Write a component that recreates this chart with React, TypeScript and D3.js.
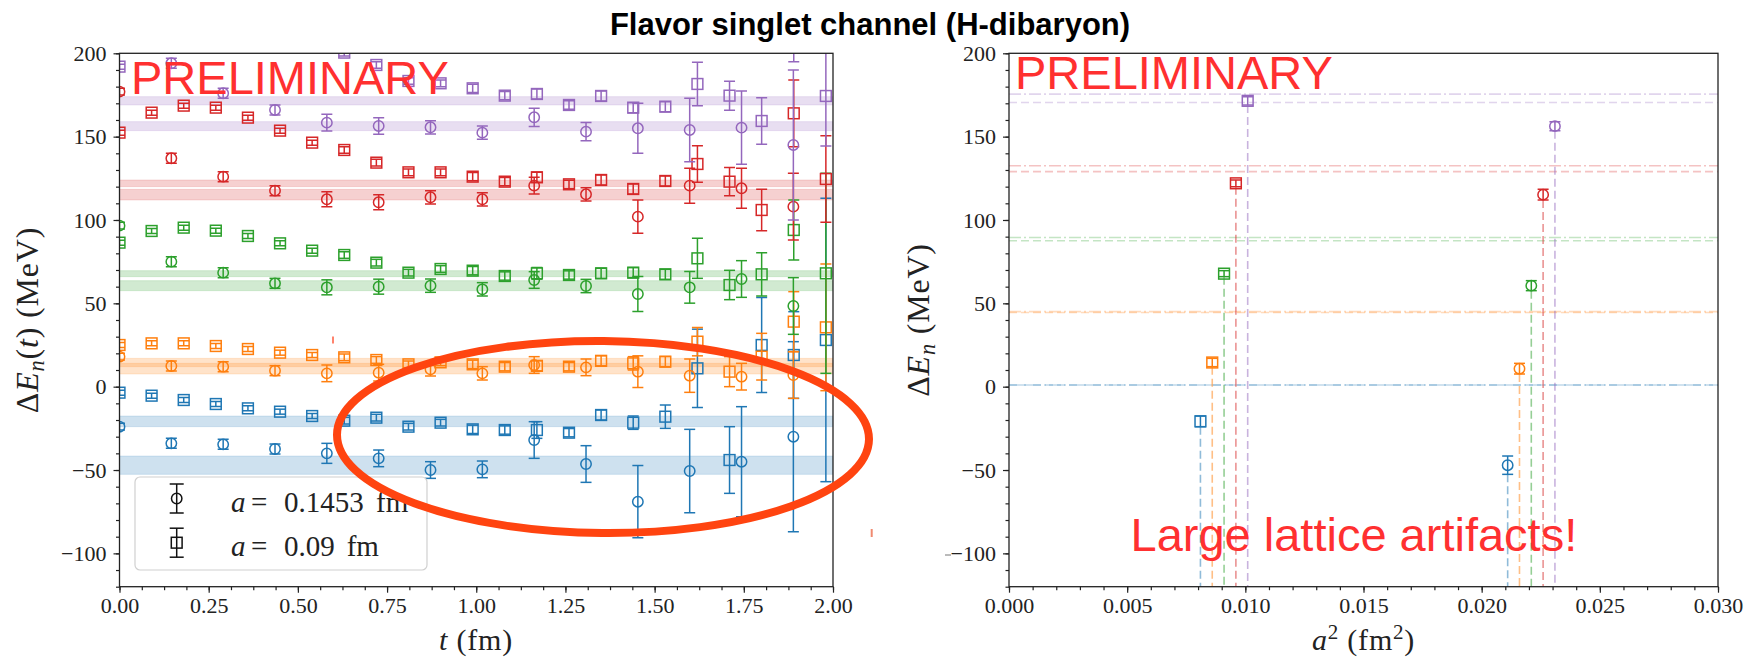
import React, { useEffect, useRef } from 'react';
import * as d3 from 'd3';

const W = 1754;
const H = 659;

const colors = ['#1f77b4', '#ff7f0e', '#2ca02c', '#d62728', '#9467bd'];
const serif = '"Liberation Serif", "DejaVu Serif", serif';
const sans = '"Liberation Sans", Arial, sans-serif';
const red = '#ff3030';

// Euclidean time t (fm): a = 0.1453 fm (circles), a = 0.09 fm (squares)
const tCircle = [0, 0.1453, 0.2906, 0.4359, 0.5812, 0.7265, 0.8718, 1.0171, 1.1624, 1.3077, 1.453, 1.5983, 1.7436, 1.8889];
const tSquare = [0, 0.09, 0.18, 0.27, 0.36, 0.45, 0.54, 0.63, 0.72, 0.81, 0.9, 0.99, 1.08, 1.17, 1.26, 1.35, 1.44, 1.53, 1.62, 1.71, 1.8, 1.89, 1.98];

// effective energy shifts (MeV), circles
const blueCircle = [-24, -34, -34.6, -37.4, -40, -43, -50, -49.6, -32, -46.4, -69, -50.6, -45, -30];
const blueCircleErr = [2, 3, 3, 3, 6, 5, 5, 5, 11, 11, 21.7, 25, 33, 57];
const orangeCircle = [18, 12.4, 12, 9.6, 8, 8.4, 10.4, 8, 13, 11.6, 9, 6.6, 6, 7];
const orangeCircleErr = [2, 3, 3, 3, 5, 5, 4, 4, 5, 5, 9.5, 10, 8, 14];
const greenCircle = [96.6, 75, 68.4, 62, 59.6, 60, 60.6, 58.4, 64, 60.4, 55.6, 59.6, 64.6, 48.4];
const greenCircleErr = [2, 3, 3, 3, 4.5, 4.5, 4, 4, 5, 4, 10.5, 9.5, 11, 17];
const redCircle = [177, 137, 126, 117.6, 112.4, 110.6, 113.6, 112.4, 120.6, 115.4, 102, 120.6, 119, 108];
const redCircleErr = [2, 3, 3, 3, 4.5, 4.5, 4, 4, 5, 4, 10, 10.5, 12, 20];
const purpleCircle = [215, 194, 176, 166, 158.4, 156.4, 155.6, 152.4, 161.6, 153, 155, 154, 155.4, 145];
const purpleCircleErr = [2, 3, 3, 3, 5, 5, 4, 4, 5.5, 5.5, 15, 19, 22, 45];

// effective energy shifts (MeV), squares
const blueSquare = [-3.6, -5.4, -8, -10.4, -13, -15, -17.6, -20.4, -18.6, -24, -21.6, -25.6, -26, -26, -27.6, -17, -21.6, -18, 11, -44, 25, 19, 28];
const blueSquareErr = [1.5, 1.5, 1.5, 1.5, 1.5, 1.5, 1.5, 2, 2, 2, 2, 2.5, 2.5, 5, 2.5, 3, 4, 7, 23.5, 20, 28.5, 26, 85];
const orangeSquare = [25, 26, 26, 24.4, 22.6, 20.4, 19, 17.6, 16, 13.4, 14.6, 13.4, 12, 12.5, 12, 15.5, 14, 15, 27, 9, 18, 39, 35.6];
const orangeSquareErr = [1.5, 1.5, 1.5, 1.5, 1.5, 1.5, 1.5, 2, 2, 2, 2, 2.5, 2.5, 3, 2.5, 3, 4, 3, 8.5, 9, 14, 18, 38];
const greenSquare = [86.4, 93.4, 95.4, 93.6, 90.4, 86, 81.6, 79, 74.4, 68.4, 70.6, 69.6, 66.4, 68, 67, 68, 68.4, 67.4, 77, 61, 67.4, 94, 68];
const greenSquareErr = [1.5, 1.5, 1.5, 1.5, 1.5, 1.5, 1.5, 2, 2, 2, 2, 2.5, 2.5, 3.5, 2.5, 3, 3, 3, 12, 8.8, 13, 18, 60];
const redSquare = [152.4, 164.4, 168.6, 167.4, 161.4, 153.6, 146.4, 142, 134.4, 128.6, 128.6, 126, 123, 125.6, 121.4, 124, 118.6, 123.4, 133.6, 123, 106, 164, 124.6];
const redSquareErr = [1.5, 1.5, 1.5, 1.5, 1.5, 1.5, 1.5, 2, 2, 2, 2, 2.5, 2.5, 3, 2.5, 3, 3, 3, 11, 8.5, 12.5, 20, 26];
const purpleSquare = [192, 215, 215, 212, 210, 208, 205, 200.4, 193, 183.4, 182, 179, 174.6, 175.6, 169, 174.4, 167.4, 168, 181.6, 174.6, 159.4, 235, 174.4];
const purpleSquareErr = [1.5, 1.5, 1.5, 1.5, 1.5, 1.5, 1.5, 2, 2, 2, 2, 2.5, 2.5, 3, 2.5, 3, 3, 3, 13, 8.7, 14, 40, 30];

// plateau fits (MeV), blue..purple
const fitSquare = [-20.8, 14.5, 67.8, 122, 171.5];
const fitSquareErr = [3.2, 2.5, 1.8, 2, 2.5];
const fitCircle = [-47.1, 10.8, 60.6, 115.2, 156.3];
const fitCircleErr = [5.5, 3.2, 3, 3.2, 2.7];

// right panel: a^2 positions (fm^2), slightly offset per level
const a2Square = [0.0081, 0.0086, 0.0091, 0.0096, 0.0101];
const a2Circle = [0.0211, 0.0216, 0.0221, 0.0226, 0.0231];
// non-interacting levels (MeV)
const thrDashDot = [1, 45, 89.5, 132.5, 175.5];
const thrDashed = [1, 44.5, 87.5, 129, 170.5];

const yTicks = [-100, -50, 0, 50, 100, 150, 200];
const tTicks = [0, 0.25, 0.5, 0.75, 1, 1.25, 1.5, 1.75, 2];
const a2Ticks = [0, 0.005, 0.01, 0.015, 0.02, 0.025, 0.03];

const circleSets = [
  [blueCircle, blueCircleErr], [orangeCircle, orangeCircleErr], [greenCircle, greenCircleErr],
  [redCircle, redCircleErr], [purpleCircle, purpleCircleErr],
];
const squareSets = [
  [blueSquare, blueSquareErr], [orangeSquare, orangeSquareErr], [greenSquare, greenSquareErr],
  [redSquare, redSquareErr], [purpleSquare, purpleSquareErr],
];

function errorbar(g, cx, cy, ylo, yhi, color, shape, cap = 5.5) {
  g.append('line').attr('x1', cx).attr('x2', cx).attr('y1', ylo).attr('y2', yhi)
    .attr('stroke', color).attr('stroke-width', 1.5);
  [ylo, yhi].forEach(yy => {
    g.append('line').attr('x1', cx - cap).attr('x2', cx + cap).attr('y1', yy).attr('y2', yy)
      .attr('stroke', color).attr('stroke-width', 1.5);
  });
  if (shape === 'circle') {
    g.append('circle').attr('cx', cx).attr('cy', cy).attr('r', 5.2)
      .attr('fill', 'none').attr('stroke', color).attr('stroke-width', 1.5);
  } else {
    g.append('rect').attr('x', cx - 5.4).attr('y', cy - 5.4).attr('width', 10.8).attr('height', 10.8)
      .attr('fill', 'none').attr('stroke', color).attr('stroke-width', 1.5);
  }
}

function axes(svg, x, y, xTicks, xMinorStep, xFmt) {
  const [x0, x1] = x.range();
  const [yb, yt] = y.range();
  const style = (g) => {
    g.select('.domain').remove();
    g.selectAll('text').attr('font-family', serif).attr('font-size', 22).attr('fill', '#222');
    g.selectAll('line').attr('stroke', '#222').attr('stroke-width', 1.2);
  };
  const xd = x.domain();
  const minorX = d3.range(xd[0], xd[1] + xMinorStep / 2, xMinorStep);
  svg.append('g').attr('transform', `translate(0,${yb})`)
    .call(d3.axisBottom(x).tickValues(minorX).tickFormat(() => '').tickSize(3.5)).call(style);
  svg.append('g').attr('transform', `translate(0,${yb})`)
    .call(d3.axisBottom(x).tickValues(xTicks).tickFormat(xFmt).tickSize(6).tickPadding(5)).call(style);
  svg.append('g').attr('transform', `translate(${x0},0)`)
    .call(d3.axisLeft(y).tickValues(d3.range(-120, 201, 10)).tickFormat(() => '').tickSize(3.5)).call(style);
  svg.append('g').attr('transform', `translate(${x0},0)`)
    .call(d3.axisLeft(y).tickValues(yTicks).tickFormat(d3.format('d')).tickSize(6).tickPadding(7)).call(style);
  svg.append('rect').attr('x', x0).attr('y', yt).attr('width', x1 - x0).attr('height', yb - yt)
    .attr('fill', 'none').attr('stroke', '#222').attr('stroke-width', 1.3);
}

// parts: text pieces; dy in px so sub/superscripts return to the baseline
function mathLabel(sel, parts) {
  parts.forEach(p => {
    const ts = sel.append('tspan').text(p.t);
    if (p.i) ts.attr('font-style', 'italic');
    if (p.small) ts.attr('font-size', '0.7em');
    if (p.dy) ts.attr('dy', p.dy);
  });
}

export default function App() {
  const ref = useRef(null);

  useEffect(() => {
    const svg = d3.select(ref.current);
    svg.selectAll('*').remove();
    svg.append('rect').attr('width', W).attr('height', H).attr('fill', '#fff');

    const xL = d3.scaleLinear().domain([0, 2]).range([119.5, 833]);
    const xR = d3.scaleLinear().domain([0, 0.03]).range([1009, 1718]);
    const y = d3.scaleLinear().domain([-120, 200]).range([586.7, 53.3]);

    const defs = svg.append('defs');
    defs.append('clipPath').attr('id', 'clipL').append('rect')
      .attr('x', 119.5).attr('y', 53.3).attr('width', 833 - 119.5).attr('height', 586.7 - 53.3);
    defs.append('clipPath').attr('id', 'clipR').append('rect')
      .attr('x', 1009).attr('y', 53.3).attr('width', 1718 - 1009).attr('height', 586.7 - 53.3);

    // ---- left panel ----
    const gl = svg.append('g').attr('clip-path', 'url(#clipL)');
    colors.forEach((c, i) => {
      [[fitSquare[i], fitSquareErr[i]], [fitCircle[i], fitCircleErr[i]]].forEach(([v, e]) => {
        gl.append('rect').attr('x', xL(0)).attr('width', xL(2) - xL(0))
          .attr('y', y(v + e)).attr('height', y(v - e) - y(v + e))
          .attr('fill', c).attr('fill-opacity', 0.22)
          .attr('stroke', c).attr('stroke-opacity', 0.15).attr('stroke-width', 1);
      });
    });
    colors.forEach((c, i) => {
      const [cv, ce] = circleSets[i];
      tCircle.forEach((t, k) => errorbar(gl, xL(t), y(cv[k]), y(cv[k] - ce[k]), y(cv[k] + ce[k]), c, 'circle'));
      const [sv, se] = squareSets[i];
      tSquare.forEach((t, k) => errorbar(gl, xL(t), y(sv[k]), y(sv[k] - se[k]), y(sv[k] + se[k]), c, 'square'));
    });
    axes(svg, xL, y, tTicks, 0.0625, d3.format('.2f'));

    // legend
    const lg = svg.append('g');
    lg.append('rect').attr('x', 135).attr('y', 477).attr('width', 292).attr('height', 93).attr('rx', 5)
      .attr('fill', '#fff').attr('fill-opacity', 0.8).attr('stroke', '#d0d0d0').attr('stroke-width', 1.2);
    [['circle', 498.5, '0.1453', 376], ['square', 542.7, '0.09', 346.7]].forEach(([shape, cy, val, fx]) => {
      errorbar(lg, 176.7, cy, cy + 14.5, cy - 14.5, '#111', shape, 7);
      const tx = lg.append('g').attr('font-family', serif).attr('font-size', 29).attr('fill', '#222');
      tx.append('text').attr('x', 231).attr('y', cy + 13).attr('font-style', 'italic').text('a');
      tx.append('text').attr('x', 251).attr('y', cy + 13).text('=');
      tx.append('text').attr('x', 284).attr('y', cy + 13).text(val);
      tx.append('text').attr('x', fx).attr('y', cy + 13).text('fm');
    });

    // ---- right panel ----
    const gr = svg.append('g').attr('clip-path', 'url(#clipR)');
    colors.forEach((c, i) => {
      gr.append('line').attr('x1', xR(0)).attr('x2', xR(0.03)).attr('y1', y(thrDashDot[i])).attr('y2', y(thrDashDot[i]))
        .attr('stroke', c).attr('stroke-opacity', 0.28).attr('stroke-width', 1.6).attr('stroke-dasharray', '12,3,2,3');
      gr.append('line').attr('x1', xR(0)).attr('x2', xR(0.03)).attr('y1', y(thrDashed[i])).attr('y2', y(thrDashed[i]))
        .attr('stroke', c).attr('stroke-opacity', 0.28).attr('stroke-width', 1.6).attr('stroke-dasharray', '8,4');
    });
    colors.forEach((c, i) => {
      [[a2Square[i], fitSquare[i], fitSquareErr[i], 'square'], [a2Circle[i], fitCircle[i], fitCircleErr[i], 'circle']]
        .forEach(([a2, v, e, shape]) => {
          gr.append('line').attr('x1', xR(a2)).attr('x2', xR(a2)).attr('y1', y(v - e)).attr('y2', y(-120))
            .attr('stroke', c).attr('stroke-opacity', 0.5).attr('stroke-width', 1.6).attr('stroke-dasharray', '8,4');
          errorbar(gr, xR(a2), y(v), y(v - e), y(v + e), c, shape);
        });
    });
    axes(svg, xR, y, a2Ticks, 0.001, d3.format('.3f'));

    // ---- labels ----
    svg.append('text').attr('x', 870).attr('y', 35).attr('text-anchor', 'middle')
      .attr('font-family', sans).attr('font-weight', 'bold').attr('font-size', 31).attr('fill', '#000')
      .text('Flavor singlet channel (H-dibaryon)');

    const lab = (x, yy, rot, size) => svg.append('text').attr('x', x).attr('y', yy).attr('text-anchor', 'middle')
      .attr('font-family', serif).attr('font-size', size).attr('letter-spacing', 0.8).attr('fill', '#222')
      .attr('transform', rot ? `rotate(-90,${x},${yy})` : null);

    mathLabel(lab(476, 650, false, 30), [{ t: 't', i: true }, { t: ' (fm)' }]);
    mathLabel(lab(1363.5, 650, false, 30), [
      { t: 'a', i: true }, { t: '2', small: true, dy: -11 }, { t: ' (fm', dy: 11 },
      { t: '2', small: true, dy: -11 }, { t: ')', dy: 11 },
    ]);
    mathLabel(lab(38, 320, true, 32), [
      { t: 'Δ' }, { t: 'E', i: true }, { t: 'n', i: true, small: true, dy: 6 },
      { t: '(', dy: -6 }, { t: 't', i: true }, { t: ')  (MeV)' },
    ]);
    mathLabel(lab(929, 320, true, 32), [
      { t: 'Δ' }, { t: 'E', i: true }, { t: 'n', i: true, small: true, dy: 6 }, { t: '  (MeV)', dy: -6 },
    ]);

    // ---- annotations ----
    const ann = (x, yy, s) => svg.append('text').attr('x', x).attr('y', yy)
      .attr('font-family', sans).attr('font-size', 47).attr('fill', red).text(s);
    ann(131, 94, 'PRELIMINARY');
    ann(1015, 89.3, 'PRELIMINARY');
    ann(1130.5, 550.7, 'Large lattice artifacts!');

    svg.append('ellipse').attr('cx', 603).attr('cy', 437).attr('rx', 266).attr('ry', 96)
      .attr('transform', 'rotate(0.5,603,437)')
      .attr('fill', 'none').attr('stroke', '#ff4410').attr('stroke-width', 8);

    svg.append('line').attr('x1', 333).attr('x2', 333).attr('y1', 336.5).attr('y2', 343.5)
      .attr('stroke', '#ff5a3c').attr('stroke-width', 1.5);
    svg.append('line').attr('x1', 871.7).attr('x2', 871.7).attr('y1', 529).attr('y2', 537)
      .attr('stroke', '#f08a70').attr('stroke-width', 2);
    svg.append('line').attr('x1', 945).attr('x2', 951).attr('y1', 555).attr('y2', 555)
      .attr('stroke', '#777').attr('stroke-width', 1);
  }, []);

  return (
    <svg ref={ref} width={W} height={H}
      style={{ position: 'absolute', left: 0, top: 0, display: 'block' }} />
  );
}
